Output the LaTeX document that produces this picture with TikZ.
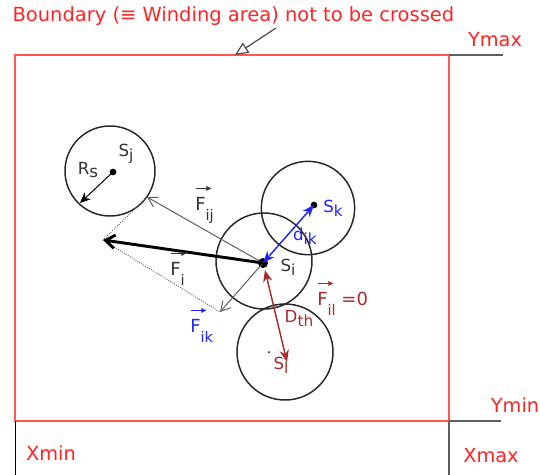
\documentclass[tikz,border=0pt]{standalone}
\usepackage{fontspec}
\setmainfont{DejaVu Sans}
\usepackage{tikz}
\usetikzlibrary{arrows.meta, positioning}
\definecolor{bred}{RGB}{255,85,85}
\definecolor{tred}{RGB}{255,35,35}
\definecolor{dred}{RGB}{165,45,45}
\definecolor{kblue}{RGB}{35,35,255}
\definecolor{lgray}{RGB}{95,95,95}
\newcommand{\lsub}[2]{#1\raisebox{-0.45ex}{\fontsize{11.5}{12}\selectfont #2}}
\newcommand{\vF}[1]{\rlap{\raisebox{1.05em}{\tikz[x=1pt, y=1pt]\draw[line width=0.8pt, -{Latex[length=4pt, width=4pt]}] (0,0) -- (12,0);}}F\raisebox{-1.1ex}{\fontsize{11}{11}\selectfont #1}}

\begin{document}
\begin{tikzpicture}[x=0.75pt, y=-0.75pt,
    every node/.style={font=\fontsize{12.5}{14}\selectfont, inner sep=1pt},
    tag/.style={tred, font=\fontsize{14.5}{16}\selectfont},
    flabel/.style={anchor=base west, inner sep=0pt, font=\fontsize{13.5}{15}\selectfont},
    ring/.style={draw=black!85, line width=1.1pt, circle, minimum size=70pt},
    dot/.style={fill=black, circle, inner sep=0pt, minimum size=5pt},
    force/.style={draw=lgray, line width=0.75pt, -{Straight Barb[length=7pt, width=8pt]}},
    twoway/.style={line width=1.1pt, {Stealth[length=9pt, width=7pt]}-{Stealth[length=9pt, width=7pt]}}]
    \useasboundingbox (0,0) rectangle (540,475);
    \coordinate (tl) at (15,55);
    \coordinate (tr) at (449,55);
    \coordinate (br) at (449,421);
    \coordinate (bl) at (15,421);
    \coordinate (ymaxend) at (503,55);
    \coordinate (yminend) at (501,421);
    \coordinate (xminend) at (15,475);
    \coordinate (xmaxend) at (449,475);
    \draw[bred, line width=1pt] (tl) -- (tr) -- (br) -- (bl) -- cycle;
    \draw[lgray, line width=1.2pt] (tr) -- (ymaxend);
    \draw[lgray, line width=1.2pt] (br) -- (yminend);
    \draw[lgray, line width=1.2pt] (br) -- (xmaxend);
    \draw[black, line width=0.75pt] (bl) -- (xminend);
    \node[tred, anchor=west, font=\fontsize{14.6}{16}\selectfont] (title) at (11,16) {Boundary (≡ Winding area) not to be crossed};
    \coordinate (tail) at (276,28);
    \coordinate (tip) at (235,55);
    \draw[black!70, line width=0.9pt, -{Triangle[open, length=10pt, width=9pt]}] (tail) -- (tip);
    \node[tag] (ymax) at (495,40) {Ymax};
    \node[tag] (ymin) at (515,405) {Ymin};
    \node[tag] (xmin) at (51,453) {Xmin};
    \node[tag] (xmax) at (491,456) {Xmax};

    \node[ring, minimum size=67.5pt] (cj) at (110,171) {};
    \node[ring, minimum size=72pt] (ci) at (264,261) {};
    \node[ring] (ck) at (308,208) {};
    \node[ring, minimum size=72pt] (cl) at (285,352) {};
    \node[dot] (sj) at (113,172) {};
    \node[dot, minimum size=7.5pt] (si) at (263,263) {};
    \node[dot] (sk) at (314,205) {};
    \node[dot, minimum size=1.5pt] (sl) at (269,352) {};

    \node[black!80] (lsj) at (126,154) {\lsub{S}{j}};
    \node[black!80] (lrs) at (88,170) {R\raisebox{-0.4ex}{s}};
    \node[black!80] (lsi) at (288,267) {\lsub{S}{i}};
    \node[kblue] (lsk) at (333,208) {\lsub{S}{k}};
    \node[dred] (lsl) at (281,365) {\lsub{S}{l}};

    \coordinate (rs) at (80,203);
    \coordinate (fi) at (103,240);
    \coordinate (fij) at (147,197);
    \coordinate (fik) at (220,312);
    \coordinate (dthi) at (265,270);
    \coordinate (dthl) at (287,362);
    \draw[black, line width=0.75pt, -{Stealth[length=8pt, width=7pt]}] (sj.center) -- (rs);
    \draw[lgray, densely dotted, line width=0.7pt] (fij) -- (fi) -- (fik);
    \draw[force] (si.center) -- (fij);
    \draw[force] (si.center) -- (fik);
    \draw[black, line width=2.2pt, -{Straight Barb[length=7pt, width=10pt]}] (si.center) -- (fi);
    \draw[twoway, kblue] (si.center) -- (sk.center);
    \draw[twoway, dred] (dthi) -- (dthl);

    \node[flabel, black!80] (lfij) at (195,210) {\vF{ij}};
    \node[flabel, black!80] (lfi) at (170,275) {\vF{i}};
    \node[flabel, kblue] (lfik) at (190,332) {\vF{ik}};
    \node[kblue] (ldik) at (305,236) {\lsub{d}{ik}};
    \node[dred] (ldth) at (299,318) {\lsub{D}{th}};
    \node[flabel, dred] (lfil) at (317,305) {\vF{il} =0};
\end{tikzpicture}
\end{document}
